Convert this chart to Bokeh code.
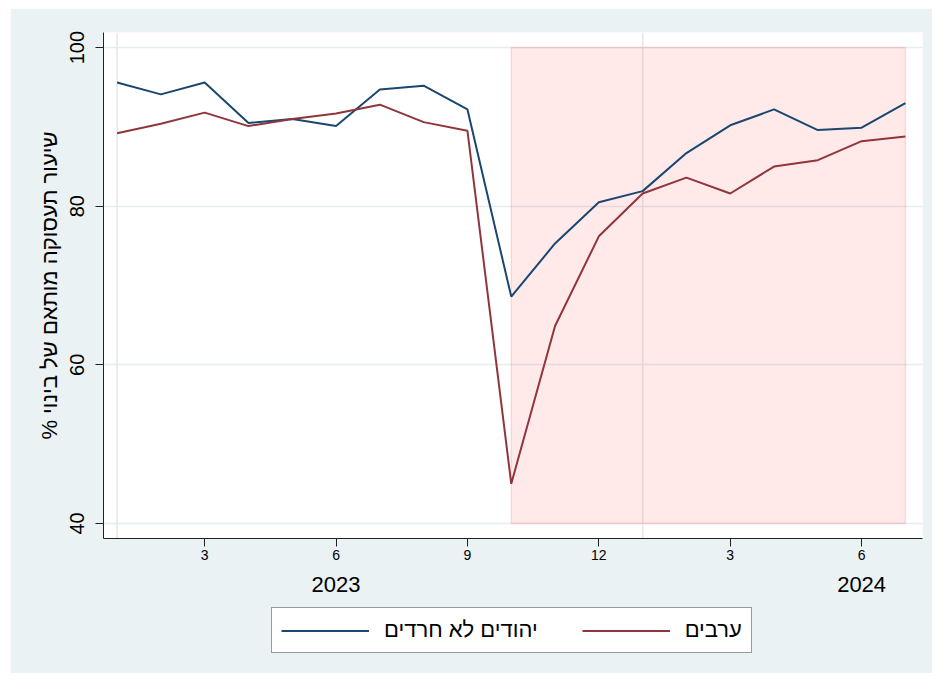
from bokeh.plotting import figure
from bokeh.layouts import column
from bokeh.models import (Range1d, FixedTicker, LinearAxis, Legend, LegendItem, Span)
from bokeh.embed import file_html
from bokeh.resources import INLINE

# ---- data ----
months = list(range(1, 20))  # Jan 2023 .. Jul 2024
jews_non_haredi = [95.6, 94.1, 95.6, 90.5, 91.0, 90.1, 94.7, 95.2, 92.2, 68.6,
                   75.3, 80.5, 81.9, 86.7, 90.2, 92.2, 89.6, 89.9, 93.0]
arabs = [89.2, 90.4, 91.8, 90.1, 91.0, 91.7, 92.8, 90.6, 89.5, 45.0,
         64.9, 76.2, 81.6, 83.6, 81.6, 85.0, 85.8, 88.2, 88.8]
x_ticks = [3, 6, 9, 12, 15, 18]
x_tick_labels = ["3", "6", "9", "12", "3", "6"]
year_ticks = [6, 18]
year_labels = ["2023", "2024"]
y_ticks = [40, 60, 80, 100]
shade_start, shade_end = 10, 19
shade_bottom, shade_top = 40, 100
year_lines = [1, 13]
series_names = ["יהודים לא חרדים", "ערבים"]
y_title = "% שיעור תעסוקה מותאם של בינוי"

FONT = "Liberation Sans"
BG = "#EAF2F3"
BLUE = "#1A476F"
RED = "#90353B"

p = figure(frame_width=819, frame_height=506, output_backend="svg", toolbar_location=None,
           x_range=Range1d(0.69, 19.39), y_range=Range1d(38.1, 101.9),
           min_border_left=93, min_border_right=10, min_border_top=24,
           min_border_bottom=66, margin=(8, 0, 0, 10))
p.border_fill_color = BG
p.background_fill_color = "white"
p.outline_line_color = None

# grid
p.xgrid.visible = False
p.ygrid.ticker = FixedTicker(ticks=y_ticks)
p.ygrid.grid_line_color = "#E6EDF0"
p.ygrid.grid_line_width = 1.5

for xv in year_lines:
    p.add_layout(Span(location=xv, dimension="height", line_color="#E6E6E6",
                      line_width=1.5, level="underlay"))

# shaded period
p.quad(left=[shade_start], right=[shade_end], bottom=[shade_bottom], top=[shade_top],
       fill_color="red", fill_alpha=0.085, line_color="red", line_alpha=0.12,
       line_width=1.5)

p.line(months, jews_non_haredi, line_color=BLUE, line_width=2)
p.line(months, arabs, line_color=RED, line_width=2)

# y axis
ya = p.yaxis[0]
ya.ticker = FixedTicker(ticks=y_ticks)
ya.major_label_orientation = "vertical"
ya.major_label_text_font = FONT
ya.major_label_text_font_size = "20px"
ya.major_label_text_color = "black"
ya.major_tick_out = 8
ya.major_tick_in = 0
ya.minor_tick_line_color = None
ya.major_label_standoff = 11
ya.axis_line_color = "#222222"
ya.major_tick_line_color = "#222222"
ya.axis_label = y_title
ya.axis_label_text_font = FONT
ya.axis_label_text_font_size = "22px"
ya.axis_label_text_font_style = "normal"
ya.axis_label_text_color = "black"
ya.axis_label_standoff = 6

# x axis
xa = p.xaxis[0]
xa.ticker = FixedTicker(ticks=x_ticks)
xa.major_label_overrides = {t: l for t, l in zip(x_ticks, x_tick_labels)}
xa.major_label_text_font = FONT
xa.major_label_text_font_size = "14px"
xa.major_label_text_color = "black"
xa.major_tick_out = 8
xa.major_tick_in = 0
xa.minor_tick_line_color = None
xa.major_label_standoff = 3
xa.axis_line_color = "#222222"
xa.major_tick_line_color = "#222222"

# year axis
yr = LinearAxis(ticker=FixedTicker(ticks=year_ticks),
                major_label_overrides={t: l for t, l in zip(year_ticks, year_labels)})
yr.axis_line_color = None
yr.major_tick_line_color = None
yr.minor_tick_line_color = None
yr.major_tick_out = 0
yr.major_tick_in = 0
yr.major_label_standoff = 14
yr.major_label_text_font = FONT
yr.major_label_text_font_size = "22px"
yr.major_label_text_color = "black"
p.add_layout(yr, "below")

# ---- legend strip (same background), legend entries from the same series ----
p2 = figure(width=922, height=71, output_backend="svg", toolbar_location=None,
            x_range=Range1d(-200, -100), y_range=Range1d(0, 1),
            x_axis_type=None, y_axis_type=None,
            min_border_left=0, min_border_right=0, min_border_top=0,
            min_border_bottom=0, margin=(-2, 0, 0, 10))
p2.border_fill_color = BG
p2.background_fill_color = BG
p2.outline_line_color = BG
p2.outline_line_width = 4
p2.grid.visible = False
l1 = p2.line(months, jews_non_haredi, line_color=BLUE, line_width=2)
l2 = p2.line(months, arabs, line_color=RED, line_width=2)

legend = Legend(items=[LegendItem(label=series_names[0], renderers=[l1]),
                       LegendItem(label=series_names[1], renderers=[l2])],
                orientation="horizontal", location=(168, 20))
legend.label_text_font = FONT
legend.label_text_font_size = "22px"
legend.label_text_color = "black"
legend.glyph_width = 88
legend.glyph_height = 25
legend.label_standoff = 15
legend.spacing = 44
legend.padding = 9
legend.margin = 0
legend.border_line_color = "#333333"
legend.border_line_width = 1
legend.background_fill_color = "white"
legend.background_fill_alpha = 1
p2.add_layout(legend, "center")

layout = column(p, p2, spacing=0)
open("out.html", "w").write(file_html(layout, INLINE))
